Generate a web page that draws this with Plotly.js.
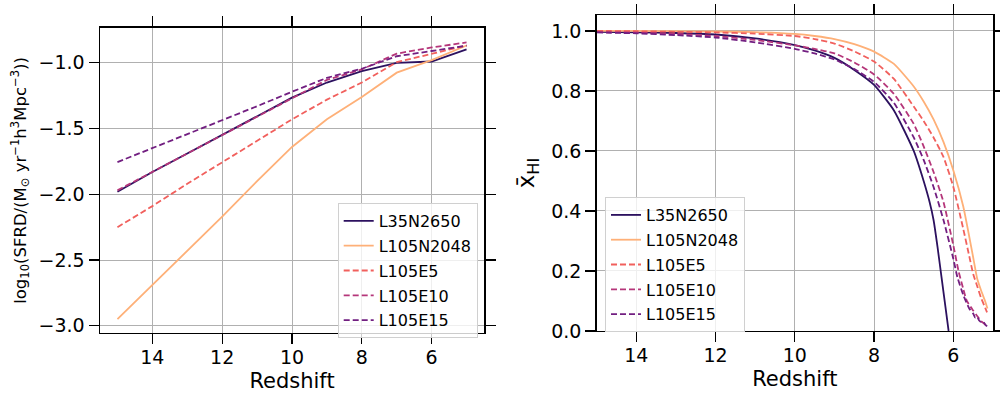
<!DOCTYPE html>
<html>
<head>
<meta charset="utf-8">
<script src="https://cdn.plot.ly/plotly-3.0.1.min.js"></script>
<style>html,body{margin:0;padding:0;background:#fff;} #chart{width:1000px;height:393px;}</style>
</head>
<body>
<div id="chart"></div>
<script>
// ---------- Data ----------
const seriesNames = ["L35N2650", "L105N2048", "L105E5", "L105E10", "L105E15"];
const seriesColors = ["#2c115f", "#feb078", "#f1605d", "#b5367a", "#721f81"];
const seriesDash = ["solid", "solid", "6px,3px", "6px,3px", "6px,3px"];

// Left panel: log10 SFRD vs redshift
const zSFRD = [15, 14, 13, 12, 11, 10, 9, 8, 7, 6, 5];
const sfrd_L35N2650  = [-1.98, -1.83, -1.69, -1.55, -1.41, -1.265, -1.15, -1.063, -1.0, -0.99, -0.898];
const sfrd_L105N2048 = [-2.95, -2.69, -2.43, -2.17, -1.90, -1.64, -1.43, -1.26, -1.075, -0.98, -0.868];
const sfrd_L105E5    = [-2.25, -2.09, -1.92, -1.755, -1.59, -1.43, -1.28, -1.15, -0.995, -0.93, -0.868];
const sfrd_L105E10   = [-1.97, -1.83, -1.69, -1.55, -1.41, -1.27, -1.13, -1.05, -0.93, -0.883, -0.845];
const sfrd_L105E15   = [-1.755, -1.65, -1.54, -1.434, -1.33, -1.22, -1.114, -1.045, -0.95, -0.91, -0.87];

// Right panel: mean neutral fraction vs redshift
const zXHI_L35N2650 = [15, 14, 13, 12, 11, 10, 9.5, 9, 8.5, 8, 7.5, 7, 6.75, 6.6, 6.5, 6.4, 6.3, 6.2, 6.12];
const xhi_L35N2650  = [0.997, 0.995, 0.993, 0.988, 0.975, 0.953, 0.935, 0.91, 0.87, 0.82, 0.735, 0.60, 0.50, 0.43, 0.37, 0.28, 0.18, 0.08, 0.0];

const zXHI_L105N2048 = [15, 14, 13, 12, 11, 10, 9.5, 9, 8.5, 8, 7.5, 7, 6.75, 6.5, 6.25, 6.0, 5.75, 5.6, 5.5, 5.4, 5.3, 5.2, 5.14];
const xhi_L105N2048  = [1.0, 1.0, 0.999, 0.998, 0.996, 0.99, 0.983, 0.973, 0.956, 0.931, 0.89, 0.815, 0.765, 0.705, 0.63, 0.535, 0.415, 0.315, 0.245, 0.175, 0.135, 0.10, 0.075];

const zXHI_L105E5 = [15, 14, 13, 12, 11, 10, 9.5, 9, 8.5, 8, 7.5, 7, 6.75, 6.5, 6.25, 6.0, 5.75, 5.6, 5.5, 5.4, 5.3, 5.2, 5.15];
const xhi_L105E5  = [1.0, 0.999, 0.997, 0.995, 0.991, 0.983, 0.973, 0.958, 0.932, 0.898, 0.84, 0.748, 0.70, 0.645, 0.58, 0.48, 0.34, 0.25, 0.19, 0.15, 0.11, 0.078, 0.062];

const zXHI_L105E10 = [15, 14, 13, 12, 11, 10, 9.5, 9, 8.5, 8, 7.5, 7, 6.75, 6.5, 6.25, 6.0, 5.87, 5.75, 5.66, 5.5, 5.4, 5.3, 5.2, 5.15];
const xhi_L105E10  = [0.996, 0.994, 0.99, 0.983, 0.97, 0.952, 0.94, 0.925, 0.895, 0.855, 0.79, 0.69, 0.615, 0.53, 0.43, 0.285, 0.20, 0.14, 0.10, 0.068, 0.05, 0.033, 0.022, 0.016];

const zXHI_L105E15 = [15, 14, 13, 12, 11, 10, 9.5, 9, 8.5, 8, 7.5, 7, 6.75, 6.5, 6.25, 6.0, 5.9, 5.75, 5.6, 5.5, 5.45, 5.4, 5.35, 5.3, 5.25, 5.2, 5.15];
const xhi_L105E15  = [0.995, 0.992, 0.986, 0.978, 0.962, 0.94, 0.925, 0.905, 0.873, 0.83, 0.76, 0.645, 0.57, 0.48, 0.37, 0.24, 0.18, 0.12, 0.075, 0.058, 0.045, 0.048, 0.035, 0.03, 0.032, 0.022, 0.015];

const xTickVals = [14, 12, 10, 8, 6];
const leftYTicks = [-3.0, -2.5, -2.0, -1.5, -1.0];
const rightYTicks = [0.0, 0.2, 0.4, 0.6, 0.8, 1.0];

// ---------- Traces ----------
const sfrdSeries = [sfrd_L35N2650, sfrd_L105N2048, sfrd_L105E5, sfrd_L105E10, sfrd_L105E15];
const xhiZ = [zXHI_L35N2650, zXHI_L105N2048, zXHI_L105E5, zXHI_L105E10, zXHI_L105E15];
const xhiSeries = [xhi_L35N2650, xhi_L105N2048, xhi_L105E5, xhi_L105E10, xhi_L105E15];

const traces = [];
seriesNames.forEach((n, i) => {
  traces.push({
    x: zSFRD, y: sfrdSeries[i], name: n, type: "scatter", mode: "lines",
    xaxis: "x", yaxis: "y", legend: "legend", legendgroup: "a" + i,
    line: {color: seriesColors[i], width: 1.8, dash: seriesDash[i]}
  });
});
seriesNames.forEach((n, i) => {
  traces.push({
    x: xhiZ[i], y: xhiSeries[i], name: n, type: "scatter", mode: "lines",
    xaxis: "x2", yaxis: "y2", legend: "legend2", legendgroup: "b" + i,
    line: {color: seriesColors[i], width: 1.8, dash: seriesDash[i], shape: "spline", smoothing: 0.5}
  });
});

const font = {family: "DejaVu Sans, sans-serif", color: "#000"};
const axisCommon = {
  showline: true, linecolor: "#000", linewidth: 1.5, mirror: "allticks",
  ticks: "outside", ticklen: 10, tickwidth: 1.3, tickcolor: "#000",
  showgrid: true, gridcolor: "#b0b0b0", gridwidth: 1,
  zeroline: false, tickfont: {family: font.family, size: 19, color: "#000"}
};

const legendCommon = {
  xanchor: "left", yanchor: "top",
  bgcolor: "rgba(255,255,255,0.8)", bordercolor: "#d0d0d0", borderwidth: 1,
  font: {family: font.family, size: 16, color: "#000"}, itemwidth: 30, tracegroupgap: 1
};

const layout = {
  width: 1000, height: 393,
  margin: {l: 0, r: 0, t: 0, b: 0},
  paper_bgcolor: "#fff", plot_bgcolor: "#fff",
  font: font,
  xaxis: Object.assign({}, axisCommon, {
    domain: [0.100, 0.484], range: [15.5, 4.5], tickvals: xTickVals, ticklabelstandoff: -3,
    title: {text: "Redshift", font: {size: 21, family: font.family, color: "#000"}, standoff: 6},
    anchor: "y", automargin: false
  }),
  yaxis: Object.assign({}, axisCommon, {
    domain: [0.1527, 0.9288], range: [-3.055, -0.735], tickvals: leftYTicks, tickformat: ".1f",
    title: {text: "log<sub>10</sub>(SFRD/(M<sub>⊙</sub> yr<sup>−1</sup>h<sup>3</sup>Mpc<sup>−3</sup>))",
            font: {size: 16.5, family: font.family, color: "#000"}, standoff: 8},
    anchor: "x", automargin: false
  }),
  xaxis2: Object.assign({}, axisCommon, {
    domain: [0.5967, 0.993], range: [15, 5], tickvals: xTickVals, ticklabelstandoff: -3,
    title: {text: "Redshift", font: {size: 21, family: font.family, color: "#000"}, standoff: 6},
    anchor: "y2", automargin: false
  }),
  yaxis2: Object.assign({}, axisCommon, {
    domain: [0.1578, 0.9618], range: [0, 1.053], tickvals: rightYTicks, tickformat: ".1f",
    title: {text: "x̄<sub>HI</sub>", font: {size: 23, family: font.family, color: "#000"}, standoff: 10},
    anchor: "x2", automargin: false
  }),
  legend: Object.assign({}, legendCommon, {x: 0.3377, y: 0.4835}),
  legend2: Object.assign({}, legendCommon, {x: 0.605, y: 0.4987}),
  showlegend: true
};

Plotly.newPlot("chart", traces, layout, {staticPlot: true, displayModeBar: false});
</script>
</body>
</html>
